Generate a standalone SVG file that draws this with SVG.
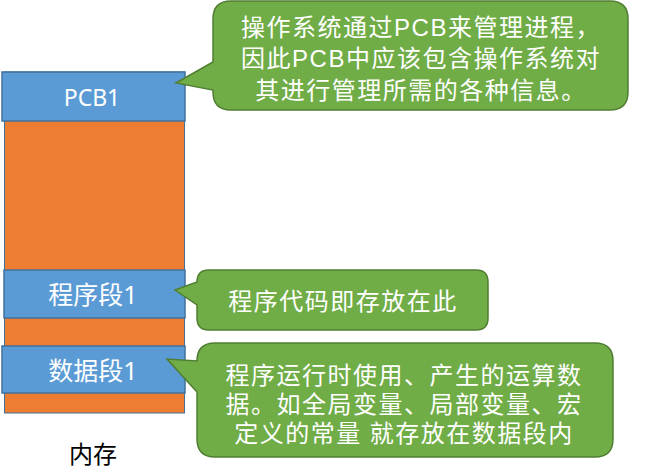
<svg xmlns="http://www.w3.org/2000/svg" width="663" height="473" viewBox="0 0 663 473">
<style>
.mem{fill:#ED7D31;stroke:#41719C;stroke-width:1}
.seg{fill:#5B9BD5;stroke:#41719C;stroke-width:1.5}
.call{fill:#70AD47;stroke:#507E32;stroke-width:1.5}
.lbl{fill:#fff;font-family:"Noto Sans","Noto Sans CJK SC",sans-serif;font-size:23px;text-anchor:middle;dominant-baseline:central}
.lbl2{font-size:25px}
.ct{fill:#fff;font-family:"Liberation Sans","Noto Sans CJK SC",sans-serif;font-size:24px;text-anchor:middle;dominant-baseline:central;letter-spacing:1.5px}
.cap{fill:#000;font-family:"Noto Sans CJK SC",sans-serif;font-size:24px;text-anchor:middle;dominant-baseline:central}
</style>
<rect width="663" height="473" fill="#fff"/>
<g id="memory">
<rect class="mem" x="4.5" y="72" width="180" height="341"/>
<text class="cap" x="93" y="452">内存</text>
</g>
<g id="pcb1">
<rect class="seg" x="2" y="72" width="183" height="49"/>
<text class="lbl" x="92" y="97">PCB1</text>
</g>
<g id="code1">
<rect class="seg" x="4" y="270" width="181" height="48"/>
<text class="lbl lbl2" x="93" y="294">程序段1</text>
</g>
<g id="data1">
<rect class="seg" x="2" y="346" width="183" height="47"/>
<text class="lbl lbl2" x="93" y="370">数据段1</text>
</g>
<g id="note-pcb">
<path class="call" d="M231,1 H610 Q628,1 628,19 V92 Q628,110 610,110 H231 Q213,110 213,92 V90 L176,83 L213,62 V19 Q213,1 231,1 Z"/>
<text class="ct" x="421" y="27">操作系统通过PCB来管理进程，</text>
<text class="ct" x="421" y="58">因此PCB中应该包含操作系统对</text>
<text class="ct" x="421" y="90">其进行管理所需的各种信息。</text>
</g>
<g id="note-code">
<path class="call" d="M209,270 H476 Q488,270 488,282 V318 Q488,330 476,330 H209 Q197,330 197,318 V305 L175,290 L197,282 Q197,270 209,270 Z"/>
<text class="ct" x="343" y="301">程序代码即存放在此</text>
</g>
<g id="note-data">
<path class="call" d="M215,343 H595 Q613,343 613,361 V439 Q613,457 595,457 H215 Q197,457 197,439 V392 L167,359 L197,361 Q197,343 215,343 Z"/>
<text class="ct" x="404" y="375">程序运行时使用、产生的运算数</text>
<text class="ct" x="404" y="404">据。如全局变量、局部变量、宏</text>
<text class="ct" x="404" y="433">定义的常量 就存放在数据段内</text>
</g>
<g id="connectors"></g>
</svg>
